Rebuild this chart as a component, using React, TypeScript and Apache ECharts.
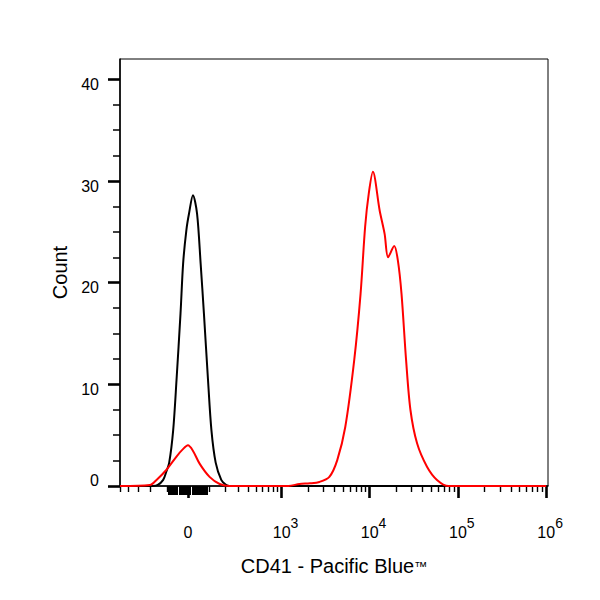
import * as echarts from 'echarts'
import type { EChartsOption } from 'echarts'
import { useEffect, useRef } from 'react'

// fluorescence intensity (raw) and event count per bin
const blackIntensity = [-500, -183, -152, -121, -106, -89, -69, -53, -34, -22, -7, 5, 23, 42, 59, 75, 96, 114, 138, 172, 201, 230, 1000000]
const blackCount = [0, 0, 0.1, 0.6, 1.3, 2.3, 5.5, 10.4, 17, 21.9, 25.2, 26.8, 28.6, 26.8, 21.9, 17, 10.4, 5.5, 2.3, 0.6, 0.15, 0, 0]

const redIntensity = [
  -500, -204, -160, -103, -53, -24, 0, 22, 54, 104, 162, 230,
  1200, 1600, 2100, 2700, 3500, 4300, 5300, 6700, 7900, 8900, 9800, 10900,
  13000, 14800, 16200, 19000, 20900, 23000, 25900, 29000, 34500, 44700, 58000, 78600,
  1000000,
]
const redCount = [
  0, 0.1, 0.6, 1.6, 2.9, 3.6, 4.0, 3.5, 2.2, 0.9, 0.2, 0,
  0, 0.2, 0.26, 0.4, 0.9, 2.55, 5.8, 12.4, 18.9, 25.5, 28.8, 30.9,
  27.1, 24.8, 22.5, 23.6, 22.2, 18.9, 12.4, 7.5, 4.2, 1.9, 0.6, 0,
  0,
]

const yMajorTicks = [0, 10, 20, 30, 40]
const yMinorTicks = [2.5, 5, 7.5, 12.5, 15, 17.5, 22.5, 25, 27.5, 32.5, 35, 37.5]

const xMajorTicks = [0, 1e3, 1e4, 1e5, 1e6]
const xMajorLabels = ['0', '10^3', '10^4', '10^5', '10^6']
const xNearZeroTicks = [-90, -80, -70, -60, -50, -40, -30, -20, -10, 0, 10, 20, 30, 40, 50, 60, 70, 80, 90]
const xNegativeTicks = [-500, -400, -300, -200, -100]
const decadeMultipliers = [2, 3, 4, 5, 6, 7, 8, 9]
const decades = [100, 1e3, 1e4, 1e5]

const intensityMin = -500
const intensityMax = 1.05e6

// biexponential-like display scale
const cofactor = 175
const toDisplay = (v: number) => Math.asinh(v / cofactor) / Math.LN10

const font = '"Liberation Sans", Arial, sans-serif'

const xMinorTicks = [
  ...xNegativeTicks,
  100,
  ...decades.flatMap((d) => decadeMultipliers.map((m) => m * d)),
]

function tickAxis(values: number[], length: number, width: number, min: number, max: number) {
  return {
    type: 'value' as const,
    position: 'bottom' as const,
    offset: 0,
    min,
    max,
    axisLine: { show: false, onZero: false },
    axisTick: {
      show: true,
      inside: false,
      length,
      lineStyle: { color: '#000', width },
      customValues: values.map(toDisplay),
    },
    axisLabel: { show: false },
    splitLine: { show: false },
  }
}

function buildOption(): EChartsOption {
  const xMin = toDisplay(intensityMin)
  const xMax = toDisplay(intensityMax)
  const majorDisplay = xMajorTicks.map(toDisplay)

  return {
    animation: false,
    backgroundColor: '#fff',
    grid: {
      left: 120,
      right: 52,
      top: 59,
      bottom: 114,
      show: true,
      borderColor: '#000',
      borderWidth: 1,
      backgroundColor: 'transparent',
    },
    xAxis: [
      {
        type: 'value',
        position: 'bottom',
        min: xMin,
        max: xMax,
        name: '{t|CD41 - Pacific Blue}{tm|™}',
        nameLocation: 'middle',
        nameGap: 70,
        nameTextStyle: {
          color: '#000',
          fontSize: 20,
          fontFamily: font,
          rich: {
            t: { fontSize: 20, lineHeight: 20, color: '#000', fontFamily: font },
            tm: { fontSize: 13, lineHeight: 20, color: '#000', fontFamily: font },
          },
        },
        axisLine: { show: true, onZero: false, lineStyle: { color: '#000', width: 1.5 } },
        axisTick: {
          show: true,
          inside: false,
          length: 12,
          lineStyle: { color: '#000', width: 2.6 },
          customValues: majorDisplay,
        },
        axisLabel: {
          show: true,
          margin: 30,
          customValues: majorDisplay,
          formatter: (value: number) => {
            const i = majorDisplay.findIndex((d) => Math.abs(d - value) < 1e-6)
            const label = i >= 0 ? xMajorLabels[i] : ''
            if (!label.includes('^')) return `{base|${label}}`
            const [base, exp] = label.split('^')
            return `{gap| }{base|${base}}{sup|${exp}}`
          },
          rich: {
            base: { fontSize: 16, lineHeight: 32, color: '#000', fontFamily: font },
            sup: { fontSize: 14, lineHeight: 13, padding: [0, 0, 19, 0], color: '#000', fontFamily: font },
            gap: { width: 8, fontSize: 12, lineHeight: 32 },
          },
        },
        splitLine: { show: false },
      },
      tickAxis(xMinorTicks, 6, 1.4, xMin, xMax),
      tickAxis(xNearZeroTicks, 9, 2, xMin, xMax),
    ],
    yAxis: [
      {
        type: 'value',
        position: 'left',
        min: 0,
        max: 42,
        name: 'Count',
        nameLocation: 'middle',
        nameGap: 49,
        nameTextStyle: { color: '#000', fontSize: 20, fontFamily: font },
        axisLine: { show: true, onZero: false, lineStyle: { color: '#000', width: 1.5 } },
        axisTick: {
          show: true,
          inside: false,
          length: 12,
          lineStyle: { color: '#000', width: 2.6 },
          customValues: yMajorTicks,
        },
        axisLabel: {
          show: true,
          margin: 21,
          customValues: yMajorTicks,
          formatter: (value: number) => (value === 0 ? `{zero|${value}}` : `{num|${value}}`),
          rich: {
            num: { fontSize: 16, lineHeight: 16, padding: [10, 0, 0, 0], color: '#000', fontFamily: font },
            zero: { fontSize: 16, lineHeight: 16, padding: [0, 0, 12, 0], color: '#000', fontFamily: font },
          },
        },
        splitLine: { show: false },
      },
      {
        type: 'value',
        position: 'left',
        offset: 0,
        min: 0,
        max: 42,
        axisLine: { show: false, onZero: false },
        axisTick: {
          show: true,
          inside: false,
          length: 7,
          lineStyle: { color: '#000', width: 1.5 },
          customValues: yMinorTicks,
        },
        axisLabel: { show: false },
        splitLine: { show: false },
      },
    ],
    series: [
      {
        name: 'control',
        type: 'line',
        xAxisIndex: 0,
        yAxisIndex: 0,
        data: blackIntensity.map((v, i) => [toDisplay(v), blackCount[i]]),
        smooth: 0.3,
        showSymbol: false,
        lineStyle: { color: '#000', width: 2 },
        itemStyle: { color: '#000' },
        silent: true,
      },
      {
        name: 'CD41',
        type: 'line',
        xAxisIndex: 0,
        yAxisIndex: 0,
        data: redIntensity.map((v, i) => [toDisplay(v), redCount[i]]),
        smooth: 0.3,
        showSymbol: false,
        lineStyle: { color: '#ff0000', width: 2 },
        itemStyle: { color: '#ff0000' },
        silent: true,
      },
    ],
  }
}

export default function App() {
  const chartRef = useRef<HTMLDivElement>(null)

  useEffect(() => {
    const element = chartRef.current
    if (!element) return
    const instance = echarts.init(element, null, { renderer: 'svg' })
    instance.setOption(buildOption())
    return () => instance.dispose()
  }, [])

  return (
    <div
      ref={chartRef}
      style={{ position: 'fixed', left: 0, top: 0, width: 600, height: 600, background: '#fff' }}
    />
  )
}
